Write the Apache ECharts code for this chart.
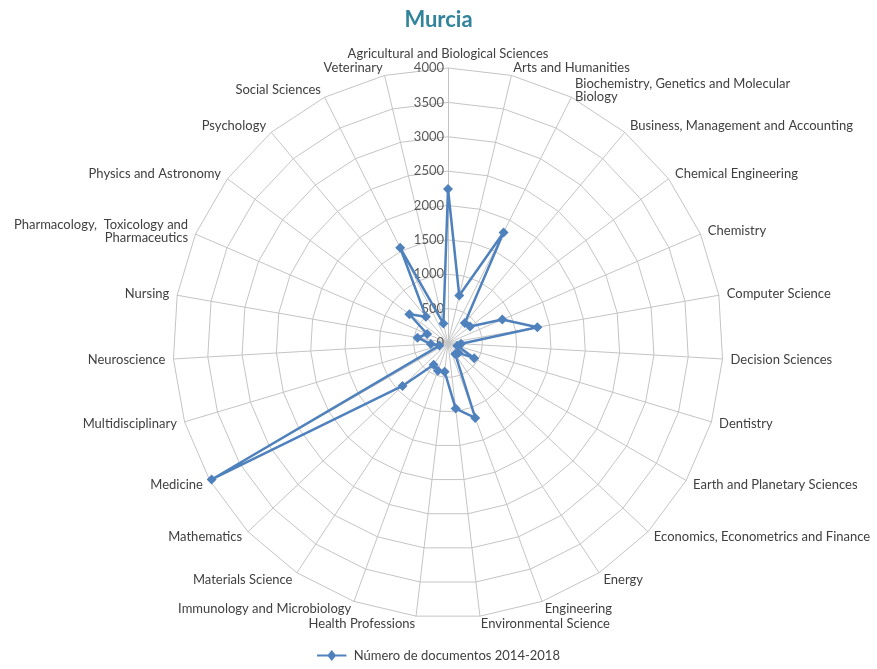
<!DOCTYPE html>
<html>
<head>
<meta charset="utf-8">
<script src="https://cdn.jsdelivr.net/npm/echarts@6/dist/echarts.min.js"></script>
<style>
  html, body { margin: 0; padding: 0; background: #fff; }
  #chart { width: 877px; height: 669px; }
</style>
</head>
<body>
<div id="chart"></div>
<script>
// subject areas, clockwise from the top
const categories = [
  'Agricultural and Biological Sciences',
  'Arts and Humanities',
  'Biochemistry, Genetics and Molecular\nBiology',
  'Business, Management and Accounting',
  'Chemical Engineering',
  'Chemistry',
  'Computer Science',
  'Decision Sciences',
  'Dentistry',
  'Earth and Planetary Sciences',
  'Economics, Econometrics and Finance',
  'Energy',
  'Engineering',
  'Environmental Science',
  'Health Professions',
  'Immunology and Microbiology',
  'Materials Science',
  'Mathematics',
  'Medicine',
  'Multidisciplinary',
  'Neuroscience',
  'Nursing',
  'Pharmacology,  Toxicology and\nPharmaceutics',
  'Physics and Astronomy',
  'Psychology',
  'Social Sciences',
  'Veterinary'
]

const documents = [
  2240, 710, 1800, 380, 400, 860, 1320, 190, 140, 440, 210, 190, 1160, 960,
  420, 430, 380, 910, 3970, 130, 250, 450, 330, 700, 500, 1550, 290
]

const seriesName = 'Número de documentos 2014-2018'
const axisMax = 4000
const axisStep = 500

// echarts lays radar axes out counter-clockwise, so keep the first and flip the rest
const order = [0].concat(categories.map((c, i) => i).slice(1).reverse())

// legend key: a line with a diamond in the middle
const legendIcon = 'path://M0,9L12,9L16,4L20,9L32,9L32,11L20,11L16,16L12,11L0,11Z'

const chart = echarts.init(document.getElementById('chart'))

chart.setOption({
  title: {
    text: 'Murcia',
    left: 'center',
    top: 4,
    textStyle: {
      color: '#31849B',
      fontFamily: 'Lato',
      fontSize: 22,
      fontWeight: 'bold'
    }
  },
  legend: {
    bottom: 2,
    left: 'center',
    icon: legendIcon,
    itemWidth: 34,
    itemHeight: 11,
    itemGap: 4,
    textStyle: { color: '#404040', fontFamily: 'Lato', fontSize: 13 },
    data: [seriesName]
  },
  radar: {
    center: [448, 343],
    radius: 275,
    shape: 'polygon',
    splitNumber: axisMax / axisStep,
    nameGap: 8,
    axisName: {
      color: '#404040',
      fontFamily: 'Lato',
      fontSize: 13
    },
    splitArea: { show: false },
    splitLine: { lineStyle: { color: '#c4c4c4', width: 1 } },
    axisLine: { lineStyle: { color: '#c4c4c4', width: 1 } },
    indicator: order.map((k, j) => ({
      name: categories[k],
      min: 0,
      max: axisMax,
      axisLabel: j === 0 ? {
        show: true,
        color: '#595959',
        fontFamily: 'Lato',
        fontSize: 13,
        margin: 4,
        formatter: v => String(v)
      } : undefined
    }))
  },
  series: [
    {
      name: seriesName,
      type: 'radar',
      symbol: 'diamond',
      symbolSize: 10,
      lineStyle: { color: '#4F81BD', width: 2.5 },
      itemStyle: { color: '#4F81BD' },
      data: [
        { name: seriesName, value: order.map(k => documents[k]) }
      ]
    }
  ]
})
</script>
</body>
</html>
